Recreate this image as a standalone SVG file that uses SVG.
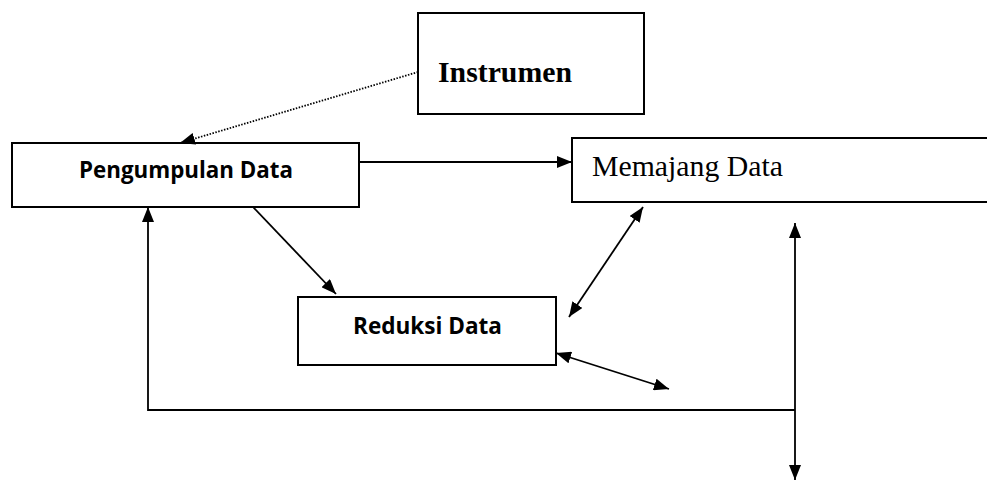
<svg xmlns="http://www.w3.org/2000/svg" width="987" height="483" viewBox="0 0 987 483">
<style>
.box{fill:#fff;stroke:#000;stroke-width:2}
.ln{fill:none;stroke:#000;stroke-width:1.8}
.sans{font-family:"Open Sans","Liberation Sans",sans-serif;font-weight:bold;font-size:22.4px}
.serif{font-family:"Liberation Serif",serif;font-size:29px}
</style>
<defs>
<marker id="ah" viewBox="0 0 15 12" refX="15" refY="6" markerWidth="15" markerHeight="12" markerUnits="userSpaceOnUse" orient="auto-start-reverse">
<path d="M0,0 L15,6 L0,12 Z" fill="#000"/>
</marker>
</defs>
<g id="instrumen">
<rect class="box" x="418" y="13" width="226" height="101"/>
<text class="serif" x="438" y="82" font-weight="bold" font-size="30" textLength="134" lengthAdjust="spacingAndGlyphs">Instrumen</text>
</g>
<g id="pengumpulan">
<rect class="box" x="12" y="143" width="347" height="64"/>
<text class="sans" x="79" y="178" textLength="214" lengthAdjust="spacingAndGlyphs">Pengumpulan Data</text>
</g>
<g id="memajang">
<path class="box" d="M990,138 H572 V202 H990"/>
<text class="serif" x="592" y="176" textLength="191" lengthAdjust="spacingAndGlyphs">Memajang Data</text>
</g>
<g id="reduksi">
<rect class="box" x="298" y="297" width="258" height="68"/>
<text class="sans" x="353" y="334" textLength="149" lengthAdjust="spacingAndGlyphs">Reduksi Data</text>
</g>
<g id="connectors">
<line class="ln" x1="418" y1="72" x2="180" y2="143" stroke-width="1.5" stroke-dasharray="1.5 1.5" marker-end="url(#ah)"/>
<line class="ln" x1="359" y1="162" x2="572" y2="162" marker-end="url(#ah)"/>
<line class="ln" x1="253" y1="207" x2="336" y2="294" marker-end="url(#ah)"/>
<line class="ln" x1="643" y1="207" x2="569" y2="317" marker-start="url(#ah)" marker-end="url(#ah)"/>
<line class="ln" x1="556" y1="353" x2="669" y2="389" stroke-width="2.2" marker-start="url(#ah)" marker-end="url(#ah)"/>
<polyline class="ln" points="795,410 148,410 148,207" marker-end="url(#ah)"/>
<line class="ln" x1="795" y1="223" x2="795" y2="480" marker-start="url(#ah)" marker-end="url(#ah)"/>
</g>
</svg>
